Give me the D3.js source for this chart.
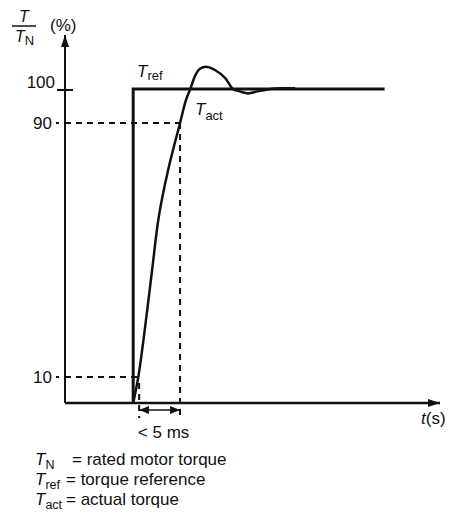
<!DOCTYPE html>
<html>
<head>
<meta charset="utf-8">
<script src="https://cdn.jsdelivr.net/npm/d3@7"></script>
<style>
  body { margin: 0; background: #fff; }
  svg text { font-family: "Liberation Sans", Arial, sans-serif; fill: #111; }
</style>
</head>
<body>
<div id="grafiekContainer"></div>
<script>

// de waarden uit de figuur (tijd in ms, koppel in % van T_N)
var yTicks = [10, 90, 100];
var yLabels = ["10", "90", "100"];

// koppelreferentie (stap)
var refTijd = [8, 8, 37.5];
var refWaarde = [0, 100, 100];

// werkelijk koppel
var actTijd = [8.0, 8.6, 9.4, 10.3, 11.0, 12.1, 13.5, 14.2, 14.7, 15.3, 15.8, 16.7,
               17.6, 18.8, 19.7, 20.5, 21.5, 22.6, 24.1, 25.5, 27.0];
var actWaarde = [0, 10, 25.7, 45.5, 60.4, 75.2, 90, 96.8, 100, 104.1, 105.9, 106.5,
                 105.6, 103.2, 100, 99.3, 98.7, 99.3, 100, 100.2, 100.2];

// tijdstippen waarop 10% en 90% bereikt wordt
var tijd10 = 8.7;
var tijd90 = 13.5;
var maatTekst = "< 5 ms";

// legenda
var legendaSub = ["N", "ref", "act"];
var legendaTekst = ["= rated motor torque", "= torque reference", "= actual torque"];

var breedte = 449;
var hoogte = 513;

// maak een SVG element
var svg = d3.select("#grafiekContainer")
            .append("svg")
            .attr("width", breedte)
            .attr("height", hoogte);

// schaalfuncties (de figuur is schematisch, dus y is stuksgewijs lineair)
var x = d3.scaleLinear()
          .domain([0, 44])
          .range([65, 440]);

var y = d3.scaleLinear()
          .domain([0, 10, 90, 100])
          .range([403, 377, 123, 89]);

// pijlpunten
var defs = svg.append("defs");
defs.append("marker")
    .attr("id", "pijl")
    .attr("viewBox", "0 0 12 8")
    .attr("refX", 12)
    .attr("refY", 4)
    .attr("markerWidth", 12)
    .attr("markerHeight", 8)
    .attr("markerUnits", "userSpaceOnUse")
    .attr("orient", "auto-start-reverse")
    .append("path")
    .attr("d", "M0,0 L12,4 L0,8 Z")
    .attr("fill", "#111");

defs.append("marker")
    .attr("id", "pijlKlein")
    .attr("viewBox", "0 0 10 8")
    .attr("refX", 10)
    .attr("refY", 4)
    .attr("markerWidth", 10)
    .attr("markerHeight", 8)
    .attr("markerUnits", "userSpaceOnUse")
    .attr("orient", "auto-start-reverse")
    .append("path")
    .attr("d", "M0,0 L10,4 L0,8 Z")
    .attr("fill", "#111");

// hulplijnen (gestippeld) voor 90% en 10%
var stippel = svg.append("g")
                 .attr("stroke", "#111")
                 .attr("stroke-width", 2)
                 .attr("stroke-dasharray", "6,5")
                 .attr("fill", "none");

stippel.append("line")
       .attr("x1", x(0)).attr("x2", x(tijd90))
       .attr("y1", y(90)).attr("y2", y(90));
stippel.append("line")
       .attr("x1", x(tijd90)).attr("x2", x(tijd90))
       .attr("y1", y(90)).attr("y2", y(0) + 15);
stippel.append("line")
       .attr("x1", x(0)).attr("x2", x(tijd10))
       .attr("y1", y(10)).attr("y2", y(10));
stippel.append("line")
       .attr("x1", x(tijd10)).attr("x2", x(tijd10))
       .attr("y1", y(10) + 6).attr("y2", y(0) + 15);

// y-as met pijl
svg.append("line")
   .attr("x1", x(0)).attr("x2", x(0))
   .attr("y1", y(0)).attr("y2", 35)
   .attr("stroke", "#111")
   .attr("stroke-width", 2)
   .attr("marker-end", "url(#pijl)");

// x-as met pijl
svg.append("line")
   .attr("x1", x(0)).attr("x2", x(44))
   .attr("y1", y(0)).attr("y2", y(0))
   .attr("stroke", "#111")
   .attr("stroke-width", 2.5)
   .attr("marker-end", "url(#pijl)");

// streepjes en waarden van de y-as
svg.selectAll(".yStreep")
   .data(yTicks)
   .enter()
   .append("line")
   .attr("class", "yStreep")
   .attr("x1", function(d) { return d == 100 ? x(0) - 8 : x(0) - 9; })
   .attr("x2", function(d) { return d == 100 ? x(0) + 8 : x(0) - 6; })
   .attr("y1", function(d) { return d == 100 ? y(d) + 1 : y(d); })
   .attr("y2", function(d) { return d == 100 ? y(d) + 1 : y(d); })
   .attr("stroke", "#111")
   .attr("stroke-width", 2);

svg.selectAll(".yWaarde")
   .data(yTicks)
   .enter()
   .append("text")
   .attr("class", "yWaarde")
   .attr("x", function(d) { return d == 100 ? 55 : 52; })
   .attr("y", function(d) { return d == 100 ? y(d) - 1 : y(d) + 6; })
   .attr("text-anchor", "end")
   .attr("font-size", "17px")
   .text(function(d, i) { return yLabels[i]; });

// titel van de y-as: T / T_N (%)
svg.append("text")
   .attr("x", 24).attr("y", 22)
   .attr("text-anchor", "middle")
   .attr("font-size", "16px")
   .attr("font-style", "italic")
   .text("T");
svg.append("line")
   .attr("x1", 12).attr("x2", 36)
   .attr("y1", 26).attr("y2", 26)
   .attr("stroke", "#111")
   .attr("stroke-width", 1.5);
var noemer = svg.append("text")
                .attr("x", 15).attr("y", 42)
                .attr("font-size", "16px");
noemer.append("tspan").attr("font-style", "italic").text("T");
noemer.append("tspan").attr("dy", 3).attr("font-size", "13px").text("N");
svg.append("text")
   .attr("x", 50).attr("y", 31)
   .attr("font-size", "17px")
   .text("(%)");

// titel van de x-as: t(s)
var tijdTitel = svg.append("text")
                   .attr("x", 421).attr("y", 424)
                   .attr("font-size", "17px");
tijdTitel.append("tspan").attr("font-style", "italic").text("t");
tijdTitel.append("tspan").text("(s)");

// lijnfunctie
var lijn = d3.line()
             .x(function(d) { return x(d[0]); })
             .y(function(d) { return y(d[1]); });

// referentie koppel
svg.append("path")
   .datum(d3.zip(refTijd, refWaarde))
   .attr("d", lijn)
   .attr("fill", "none")
   .attr("stroke", "#111")
   .attr("stroke-width", 3)
   .attr("stroke-linejoin", "miter");

// werkelijk koppel
svg.append("path")
   .datum(d3.zip(actTijd, actWaarde))
   .attr("d", lijn.curve(d3.curveCatmullRom))
   .attr("fill", "none")
   .attr("stroke", "#111")
   .attr("stroke-width", 2.5);

// labels bij de lijnen
var refLabel = svg.append("text")
                  .attr("x", 137).attr("y", 77)
                  .attr("font-size", "17px");
refLabel.append("tspan").attr("font-style", "italic").text("T");
refLabel.append("tspan").attr("dy", 3).attr("font-size", "13px").text("ref");

var actLabel = svg.append("text")
                  .attr("x", 195).attr("y", 115)
                  .attr("font-size", "17px");
actLabel.append("tspan").attr("font-style", "italic").text("T");
actLabel.append("tspan").attr("dy", 5).attr("font-size", "13px").text("act");

// maatpijl < 5 ms
svg.append("line")
   .attr("x1", x(tijd10)).attr("x2", x(tijd90))
   .attr("y1", y(0) + 7).attr("y2", y(0) + 7)
   .attr("stroke", "#111")
   .attr("stroke-width", 1.5)
   .attr("marker-start", "url(#pijlKlein)")
   .attr("marker-end", "url(#pijlKlein)");

svg.append("text")
   .attr("x", (x(tijd10) + x(tijd90)) / 2 + 4)
   .attr("y", 438)
   .attr("text-anchor", "middle")
   .attr("font-size", "17px")
   .text(maatTekst);

// legenda
var legX = [72, 66, 66];
legendaSub.forEach(function(sub, i) {
  var regel = svg.append("text")
                 .attr("x", 35)
                 .attr("y", 465 + i * 20)
                 .attr("font-size", "17px");
  regel.append("tspan").attr("font-style", "italic").text("T");
  regel.append("tspan").attr("dy", 4).attr("font-size", "12.5px").text(sub);
  svg.append("text")
     .attr("x", legX[i])
     .attr("y", 465 + i * 20)
     .attr("font-size", "17px")
     .text(legendaTekst[i]);
});

</script>
</body>
</html>
